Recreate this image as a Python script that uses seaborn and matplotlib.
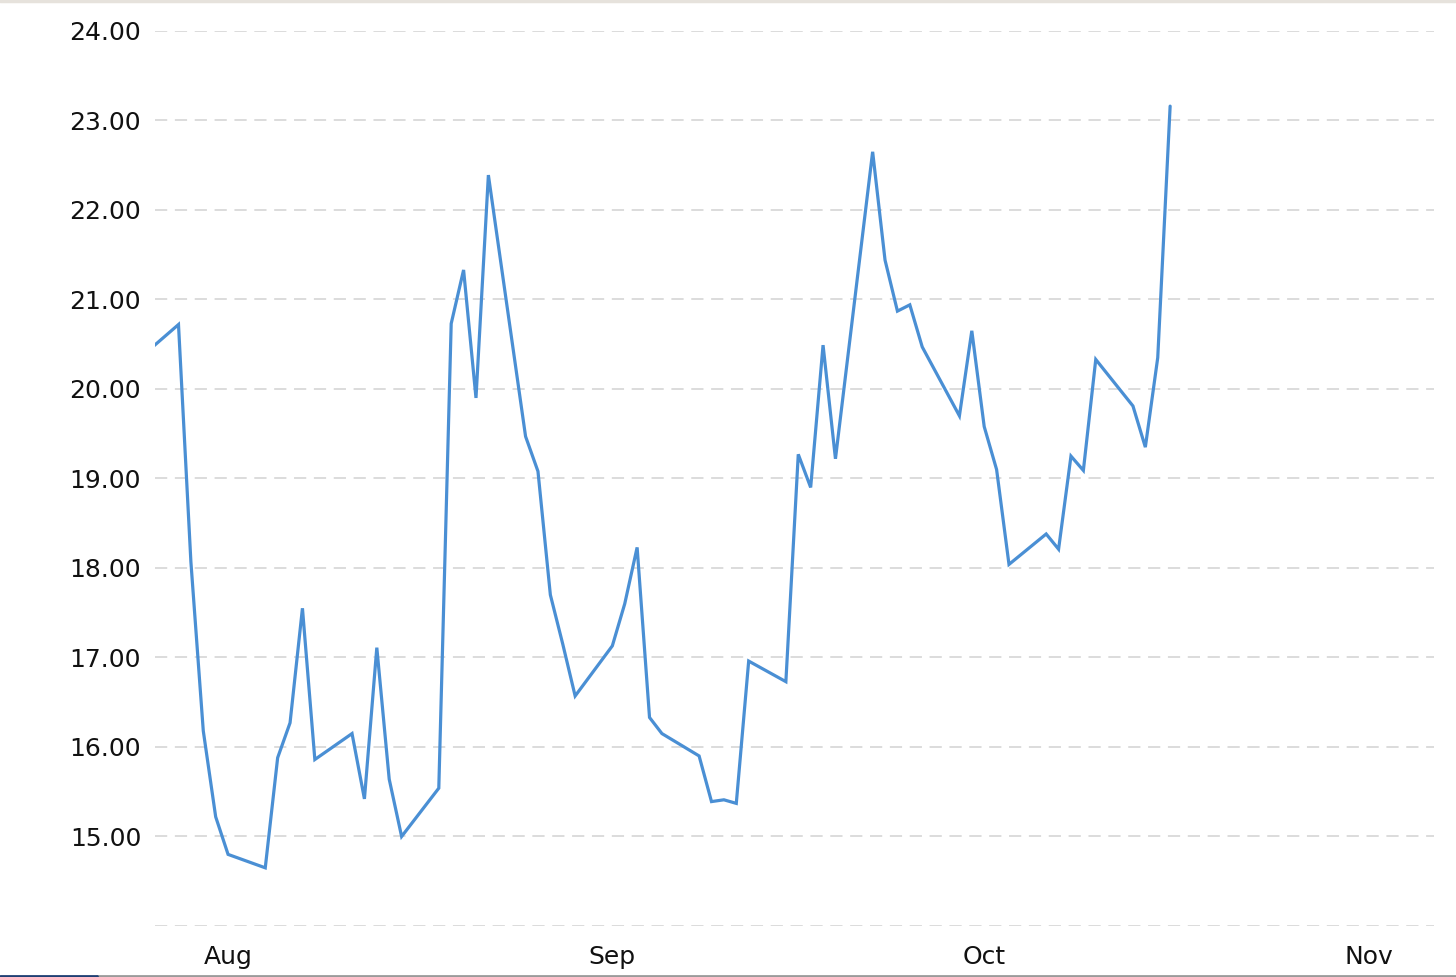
import matplotlib
matplotlib.use('Agg')
import matplotlib.pyplot as plt
from matplotlib.lines import Line2D
import seaborn as sns
import pandas as pd

# daily closes
dates = ['2025-07-25', '2025-07-28', '2025-07-29', '2025-07-30', '2025-07-31',
         '2025-08-01', '2025-08-04', '2025-08-05', '2025-08-06', '2025-08-07',
         '2025-08-08', '2025-08-11', '2025-08-12', '2025-08-13', '2025-08-14',
         '2025-08-15', '2025-08-18', '2025-08-19', '2025-08-20', '2025-08-21',
         '2025-08-22', '2025-08-25', '2025-08-26', '2025-08-27', '2025-08-28',
         '2025-08-29', '2025-09-01', '2025-09-02', '2025-09-03', '2025-09-04',
         '2025-09-05', '2025-09-08', '2025-09-09', '2025-09-10', '2025-09-11',
         '2025-09-12', '2025-09-15', '2025-09-16', '2025-09-17', '2025-09-18',
         '2025-09-19', '2025-09-22', '2025-09-23', '2025-09-24', '2025-09-25',
         '2025-09-26', '2025-09-29', '2025-09-30', '2025-10-01', '2025-10-02',
         '2025-10-03', '2025-10-06', '2025-10-07', '2025-10-08', '2025-10-09',
         '2025-10-10', '2025-10-13', '2025-10-14', '2025-10-15', '2025-10-16']
values = [20.36, 20.72, 18.07, 16.18, 15.22,
          14.80, 14.65, 15.88, 16.27, 17.55,
          15.86, 16.15, 15.42, 17.11, 15.64,
          15.00, 15.54, 20.73, 21.33, 19.90,
          22.39, 19.47, 19.08, 17.70, 17.15,
          16.57, 17.13, 17.60, 18.23, 16.33,
          16.15, 15.90, 15.39, 15.41, 15.37,
          16.96, 16.73, 19.27, 18.90, 20.49,
          19.22, 22.65, 21.44, 20.87, 20.94,
          20.47, 19.70, 20.65, 19.58, 19.10,
          18.04, 18.38, 18.21, 19.25, 19.09,
          20.33, 19.81, 19.35, 20.35, 23.16]
y_ticks = [14, 15, 16, 17, 18, 19, 20, 21, 22, 23, 24]
month_ticks = ['2025-08-01', '2025-09-01', '2025-10-01', '2025-11-01']
month_labels = ['Aug', 'Sep', 'Oct', 'Nov']

df = pd.DataFrame({'date': pd.to_datetime(dates), 'value': values})

sns.set_style('white')
plt.rcParams['font.family'] = ['DejaVu Sans']

fig = plt.figure(figsize=(14.56, 9.77), dpi=100)
ax = fig.add_axes([0.1065, 0.0522, 0.8785, 0.9161])

sns.lineplot(data=df, x='date', y='value', ax=ax, color='#4a8fd4',
             linewidth=2.3, solid_joinstyle='miter')

aug1 = pd.Timestamp('2025-08-01')
ax.set_xlim(aug1 - pd.Timedelta(days=5.89), aug1 + pd.Timedelta(days=97.3))
ax.set_ylim(14, 24)

ax.set_yticks(y_ticks)
ax.set_yticklabels(['' if t == 14 else f'{t:.2f}' for t in y_ticks])
ax.set_xticks(pd.to_datetime(month_ticks))
ax.set_xticklabels(month_labels)
ax.tick_params(axis='y', length=0, pad=10, labelsize=18, labelcolor='#111111')
ax.tick_params(axis='x', length=0, pad=14, labelsize=18, labelcolor='#111111')

ax.grid(axis='y', color='#d2d2d2', linestyle=(0, (8, 5)), linewidth=1.1)
ax.grid(axis='x', visible=False)
ax.set_axisbelow(True)
for s in ax.spines.values():
    s.set_visible(False)
ax.set_xlabel('')
ax.set_ylabel('')

# screenshot edges
fig.add_artist(Line2D([0, 1], [0.9985, 0.9985], transform=fig.transFigure,
                      color='#e6e2dc', linewidth=2.5))
fig.add_artist(Line2D([0.0666, 1], [0.0015, 0.0015], transform=fig.transFigure,
                      color='#9a9a9a', linewidth=2))
fig.add_artist(Line2D([0, 0.0666], [0.0015, 0.0015], transform=fig.transFigure,
                      color='#1f3f73', linewidth=2))

fig.savefig('out.png', dpi=100)
